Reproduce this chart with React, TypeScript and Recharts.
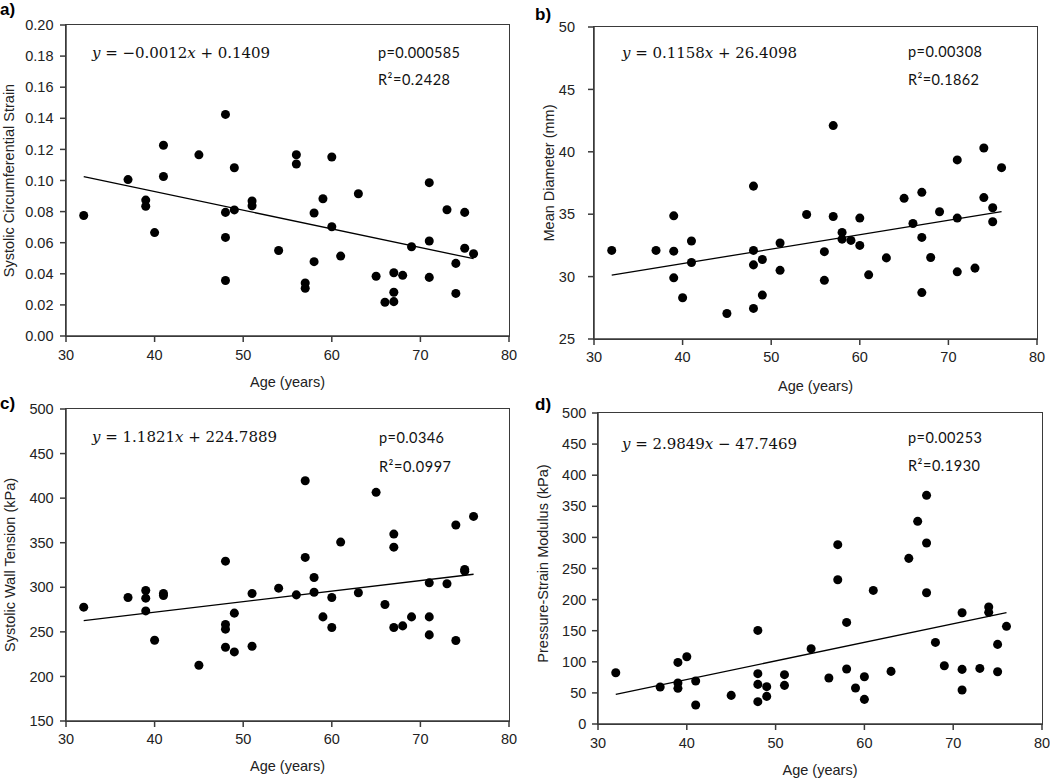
import {
  ScatterChart,
  Scatter,
  XAxis,
  YAxis,
  ZAxis,
  ReferenceLine,
} from 'recharts';

// shared x axis
const ageTicks = [30, 40, 50, 60, 70, 80];

// a) systolic circumferential strain
const strainAges = [32, 37, 39, 39, 40, 41, 41, 45, 48, 48, 48, 48, 49, 49, 51, 51, 54, 56, 56, 57, 57, 58, 58, 59, 60, 60, 61, 63, 65, 66, 67, 67, 67, 68, 69, 71, 71, 71, 73, 74, 74, 75, 75, 76];
const strainValues = [0.0775, 0.1006, 0.0874, 0.0834, 0.0665, 0.1227, 0.1026, 0.1165, 0.1425, 0.0795, 0.0634, 0.0357, 0.1082, 0.0811, 0.0868, 0.0838, 0.055, 0.1166, 0.1106, 0.0341, 0.0307, 0.0791, 0.0478, 0.0883, 0.1151, 0.0703, 0.0514, 0.0915, 0.0384, 0.0217, 0.0407, 0.0281, 0.0221, 0.039, 0.0574, 0.0986, 0.0611, 0.0377, 0.0812, 0.0467, 0.0274, 0.0795, 0.0564, 0.0529];
const strainTicks = [0, 0.02, 0.04, 0.06, 0.08, 0.1, 0.12, 0.14, 0.16, 0.18, 0.2];

// b) mean diameter
const diameterAges = [32, 37, 39, 39, 39, 40, 41, 41, 45, 48, 48, 48, 48, 49, 49, 51, 51, 54, 56, 56, 57, 57, 58, 58, 59, 60, 60, 61, 63, 65, 66, 67, 67, 67, 68, 69, 71, 71, 71, 73, 74, 74, 75, 75, 76];
const diameterValues = [32.1, 32.1, 34.87, 32.04, 29.9, 28.3, 32.85, 31.13, 27.04, 37.25, 32.1, 30.94, 27.45, 31.37, 28.52, 32.69, 30.5, 34.98, 32.0, 29.7, 42.1, 34.82, 33.54, 33.0, 32.9, 34.69, 32.5, 30.14, 31.5, 36.27, 34.26, 36.75, 33.14, 28.72, 31.53, 35.2, 39.35, 34.69, 30.38, 30.68, 40.3, 36.33, 35.52, 34.4, 38.73];
const diameterTicks = [25, 30, 35, 40, 45, 50];

// c) systolic wall tension
const tensionAges = [32, 37, 39, 39, 39, 40, 41, 41, 45, 48, 48, 48, 48, 49, 49, 51, 51, 54, 56, 57, 57, 58, 58, 59, 60, 60, 61, 63, 65, 66, 67, 67, 67, 68, 69, 71, 71, 71, 73, 74, 74, 75, 75, 76];
const tensionValues = [277.7, 288.6, 296.4, 287.8, 273.5, 240.6, 293.1, 290.8, 212.6, 329.3, 258.2, 253.0, 232.8, 271.0, 227.5, 293.1, 233.9, 299.0, 291.5, 419.5, 333.5, 311.0, 294.5, 266.8, 288.6, 254.9, 350.7, 293.8, 406.5, 280.7, 359.7, 345.0, 254.9, 256.7, 266.8, 305.0, 266.8, 246.6, 303.9, 369.8, 240.3, 320.0, 318.1, 379.5];
const tensionTicks = [150, 200, 250, 300, 350, 400, 450, 500];

// d) pressure-strain modulus
const modulusAges = [32, 37, 39, 39, 39, 40, 41, 41, 45, 48, 48, 48, 48, 49, 49, 51, 51, 54, 56, 57, 57, 58, 58, 59, 60, 60, 61, 63, 65, 66, 67, 67, 67, 68, 69, 71, 71, 71, 73, 74, 74, 75, 75, 76];
const modulusValues = [82.5, 59.5, 99.0, 65.9, 57.3, 108.2, 69.1, 30.5, 46.0, 150.5, 80.9, 63.7, 35.9, 60.0, 44.4, 79.3, 62.1, 121.0, 74.0, 288.3, 232.0, 163.3, 88.4, 57.9, 76.0, 39.6, 214.8, 84.6, 266.3, 325.8, 367.6, 291.0, 211.0, 131.2, 93.7, 178.9, 87.8, 54.6, 89.4, 188.0, 179.5, 128.0, 84.0, 157.0];
const modulusTicks = [0, 50, 100, 150, 200, 250, 300, 350, 400, 450, 500];

// regression results printed on each panel
const slopes = [-0.0012, 0.1158, 1.1821, 2.9849];
const intercepts = [0.1409, 26.4098, 224.7889, -47.7469];
const pValues = ['0.000585', '0.00308', '0.0346', '0.00253'];
const r2Values = ['0.2428', '0.1862', '0.0997', '0.1930'];
const fitRange = [32, 76];

const INK = '#222';
const AXIS = '#3a3a3a';
const SANS = '"Liberation Sans", Arial, sans-serif';

interface PanelProps {
  ages: number[];
  values: number[];
  yTicks: number[];
  yLabel: string;
  slope: number;
  intercept: number;
  decimals: number;
  left: number;
  top: number;
  width: number;
  height: number;
  marginTop: number;
  marginRight: number;
  yWidth: number;
  xHeight: number;
  xTickMargin: number;
  yTickMargin: number;
  yLabelX: number;
  yLabelDy: number;
  xLabelOffset: number;
}

function Panel(p: PanelProps) {
  const points = p.ages.map((a, i) => ({ x: a, y: p.values[i] }));
  const yMin = p.yTicks[0];
  const yMax = p.yTicks[p.yTicks.length - 1];
  const fit = fitRange.map(x => ({ x, y: p.slope * x + p.intercept }));
  const tickStyle = { fill: INK, fontSize: 14.5, fontFamily: SANS };
  // plot box, for the frame round it
  const plotW = p.width - p.yWidth - p.marginRight;
  const plotH = p.height - p.marginTop - p.xHeight;

  return (
    <div style={{ position: 'absolute', left: p.left, top: p.top, width: p.width, height: p.height }}>
      <div
        style={{
          position: 'absolute',
          left: p.yWidth - 0.75,
          top: p.marginTop - 0.75,
          width: plotW + 1.5,
          height: plotH + 1.5,
          border: `1.5px solid ${AXIS}`,
          boxSizing: 'border-box',
        }}
      />
      <div style={{ position: 'absolute', left: 0, top: 0 }}>
        <ScatterChart
          width={p.width}
          height={p.height}
          margin={{ top: p.marginTop, right: p.marginRight, bottom: 0, left: 0 }}
        >
          <XAxis
            dataKey="x"
            type="number"
            domain={[30, 80]}
            ticks={ageTicks}
            interval={0}
            height={p.xHeight}
            tickSize={6}
            tickMargin={p.xTickMargin}
            stroke={AXIS}
            strokeWidth={1.5}
            tick={tickStyle}
            label={{
              value: 'Age (years)',
              position: 'insideTop',
              offset: p.xLabelOffset,
              fill: INK,
              fontSize: 14.5,
              fontFamily: SANS,
            }}
          />
          <YAxis
            dataKey="y"
            type="number"
            domain={[yMin, yMax]}
            ticks={p.yTicks}
            interval={0}
            width={p.yWidth}
            tickSize={6}
            tickMargin={p.yTickMargin}
            stroke={AXIS}
            strokeWidth={1.5}
            tick={tickStyle}
            tickFormatter={v => Number(v).toFixed(p.decimals)}
            label={{
              value: p.yLabel,
              angle: -90,
              position: 'insideLeft',
              offset: p.yLabelX,
              dy: p.yLabelDy,
              fill: INK,
              fontSize: 14.5,
              fontFamily: SANS,
              style: { textAnchor: 'middle' },
            }}
          />
          <ZAxis range={[50, 50]} />
          <ReferenceLine segment={fit} stroke="#000" strokeWidth={1.3} />
          <Scatter data={points} fill="#000" shape="circle" isAnimationActive={false} />
        </ScatterChart>
      </div>
    </div>
  );
}

function equationParts(slope: number, intercept: number) {
  const s = slope.toFixed(4).replace('-', '\u2212');
  const sign = intercept < 0 ? ' \u2212 ' : ' + ';
  return { s, sign, b: Math.abs(intercept).toFixed(4) };
}

const notes = [
  { letter: 'a)', lx: 0, ly: 14.5, ex: 92, ey: 58, ew: 178, px: 378, py: 58, pw: 82, ry: 85, rw: 72 },
  { letter: 'b)', lx: 535, ly: 19.5, ex: 622, ey: 58, ew: 175, px: 908, py: 57, pw: 74, ry: 85, rw: 71 },
  { letter: 'c)', lx: 0, ly: 409, ex: 92, ey: 442, ew: 185, px: 379, py: 443, pw: 65, ry: 471.5, rw: 72 },
  { letter: 'd)', lx: 535, ly: 410, ex: 622, ey: 449, ew: 175, px: 908, py: 443, pw: 74, ry: 471, rw: 72 },
];

export default function App() {
  return (
    <div style={{ position: 'absolute', left: 0, top: 0, width: 1050, height: 781, background: '#fff', overflow: 'hidden' }}>
      <Panel
        ages={strainAges} values={strainValues} yTicks={strainTicks} yLabel="Systolic Circumferential Strain"
        slope={slopes[0]} intercept={intercepts[0]} decimals={2}
        left={0} top={0} width={525} height={400} marginTop={25} marginRight={16}
        yWidth={66} xHeight={64} xTickMargin={8} yTickMargin={6.5} yLabelX={8.5} yLabelDy={0} xLabelOffset={41}
      />
      <Panel
        ages={diameterAges} values={diameterValues} yTicks={diameterTicks} yLabel="Mean Diameter (mm)"
        slope={slopes[1]} intercept={intercepts[1]} decimals={0}
        left={525} top={0} width={525} height={400} marginTop={27} marginRight={13}
        yWidth={69} xHeight={61} xTickMargin={7} yTickMargin={13} yLabelX={24} yLabelDy={-10} xLabelOffset={42}
      />
      <Panel
        ages={tensionAges} values={tensionValues} yTicks={tensionTicks} yLabel="Systolic Wall Tension (kPa)"
        slope={slopes[2]} intercept={intercepts[2]} decimals={0}
        left={0} top={390} width={525} height={391} marginTop={19} marginRight={16}
        yWidth={66} xHeight={60} xTickMargin={7} yTickMargin={6.4} yLabelX={10} yLabelDy={0} xLabelOffset={40}
      />
      <Panel
        ages={modulusAges} values={modulusValues} yTicks={modulusTicks} yLabel="Pressure-Strain Modulus (kPa)"
        slope={slopes[3]} intercept={intercepts[3]} decimals={0}
        left={525} top={390} width={525} height={391} marginTop={23} marginRight={8}
        yWidth={73} xHeight={57} xTickMargin={8} yTickMargin={5.7} yLabelX={18} yLabelDy={-5} xLabelOffset={41}
      />
      <svg width={1050} height={781} style={{ position: 'absolute', left: 0, top: 0, pointerEvents: 'none' }}>
        {notes.map((n, i) => {
          const eq = equationParts(slopes[i], intercepts[i]);
          return (
            <g key={n.letter}>
              <text x={n.lx} y={n.ly} fontFamily={SANS} fontWeight="bold" fontSize={17} fill="#000">
                {n.letter}
              </text>
              <text
                x={n.ex} y={n.ey} fontFamily='"DejaVu Serif", serif' fontSize={15} fill="#111"
                textLength={n.ew} lengthAdjust="spacing"
              >
                <tspan fontStyle="italic">y</tspan>
                {' = ' + eq.s}
                <tspan fontStyle="italic">x</tspan>
                {eq.sign + eq.b}
              </text>
              <text x={n.px} y={n.py} fontFamily="Lato, sans-serif" fontSize={14.5} fill="#111" textLength={n.pw} lengthAdjust="spacing">
                {'p=' + pValues[i]}
              </text>
              <text x={n.px} y={n.ry} fontFamily="Lato, sans-serif" fontSize={14.5} fill="#111" textLength={n.rw} lengthAdjust="spacing">
                {'R\u00b2=' + r2Values[i]}
              </text>
            </g>
          );
        })}
      </svg>
    </div>
  );
}
